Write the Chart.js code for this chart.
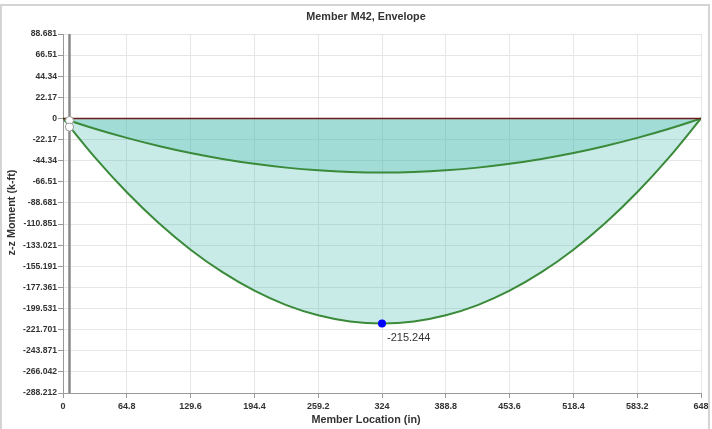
<!DOCTYPE html>
<html>
<head>
<meta charset="utf-8">
<script src="https://cdn.jsdelivr.net/npm/chart.js@4/dist/chart.umd.min.js"></script>
<style>
  html, body { margin: 0; padding: 0; background: #fff; }
  #frame { position: absolute; left: 0; top: 4px; width: 706px; height: 440px; border: 2px solid #d4d4d4; border-bottom: none; }
  #wrap { position: absolute; left: 0; top: 0; width: 712px; height: 429px; }
</style>
</head>
<body>
<div id="frame"></div>
<div id="wrap"><canvas id="c" width="712" height="429"></canvas></div>
<script>
// ---- data ----
const locations = [0, 32.4, 64.8, 97.2, 129.6, 162, 194.4, 226.8, 259.2, 291.6, 324,
                   356.4, 388.8, 421.2, 453.6, 486, 518.4, 550.8, 583.2, 615.6, 648];
const upperMoment = [0, -10.8, -20.4, -28.9, -36.3, -42.5, -47.6, -51.6, -54.4, -56.1, -56.7,
                     -56.1, -54.4, -51.6, -47.6, -42.5, -36.3, -28.9, -20.4, -10.8, 0];
const lowerMoment = [0, -40.9, -77.5, -109.8, -137.8, -161.4, -180.8, -195.9, -206.6, -213.1, -215.244,
                     -213.1, -206.6, -195.9, -180.8, -161.4, -137.8, -109.8, -77.5, -40.9, 0];
const zeroLine = [0, 0];
const zeroLineX = [0, 648];
const minPoint = [324, -215.244];
const minLabel = '-215.244';
const cursorX = 6.6;
const cursorHover = [-2.1, -9.1];
const xTicks = [0, 64.8, 129.6, 194.4, 259.2, 324, 388.8, 453.6, 518.4, 583.2, 648];
const xTickLabels = ['0', '64.8', '129.6', '194.4', '259.2', '324', '388.8', '453.6', '518.4', '583.2', '648'];
const yTicks = [88.681, 66.51, 44.34, 22.17, 0, -22.17, -44.34, -66.51, -88.681, -110.851, -133.021,
                -155.191, -177.361, -199.531, -221.701, -243.871, -266.042, -288.212];
const yTickLabels = ['88.681', '66.51', '44.34', '22.17', '0', '-22.17', '-44.34', '-66.51', '-88.681', '-110.851', '-133.021',
                     '-155.191', '-177.361', '-199.531', '-221.701', '-243.871', '-266.042', '-288.212'];
const chartTitle = 'Member M42, Envelope';
const xTitle = 'Member Location (in)';
const yTitle = 'z-z Moment (k-ft)';

const FONT = '"Liberation Sans", Arial, sans-serif';
const fillColor = 'rgba(54,182,171,0.27)';
const lineColor = 'rgb(58,138,58)';

const pts = (xs, ys) => xs.map((x, i) => ({ x: x, y: ys[i] }));

const titlesPlugin = {
  id: 'titles',
  afterDraw(chart) {
    const ctx = chart.ctx;
    const ca = chart.chartArea;
    ctx.save();
    ctx.fillStyle = '#333';
    ctx.font = 'bold 10.8px ' + FONT;
    ctx.textAlign = 'center';
    ctx.textBaseline = 'middle';
    ctx.fillText(chartTitle, 366, 17);
    ctx.fillText(xTitle, 366, 420);
    ctx.save();
    ctx.translate(12, (ca.top + ca.bottom) / 2 - 1);
    ctx.rotate(-Math.PI / 2);
    ctx.fillText(yTitle, 0, 0);
    ctx.restore();
    // min label next to the min point
    const xs = chart.scales.x, ys = chart.scales.y;
    const px = xs.getPixelForValue(minPoint[0]);
    const py = ys.getPixelForValue(minPoint[1]);
    ctx.font = '11px ' + FONT;
    ctx.textAlign = 'left';
    ctx.fillStyle = '#333';
    ctx.fillText(minLabel, px + 5, py + 14);
    ctx.restore();
  }
};

new Chart(document.getElementById('c'), {
  type: 'line',
  data: {
    datasets: [
      { // min point marker
        data: [{ x: minPoint[0], y: minPoint[1] }],
        showLine: false, pointRadius: 4, pointBackgroundColor: '#0000ff', pointBorderColor: '#0000ff',
        pointBorderWidth: 0, order: 0
      },
      { // hover markers on cursor
        data: cursorHover.map(v => ({ x: cursorX, y: v })),
        showLine: false, pointRadius: 4, pointBackgroundColor: '#fff', pointBorderColor: '#999',
        pointBorderWidth: 1, order: 1
      },
      { // cursor line
        data: [{ x: cursorX, y: yTicks[0] }, { x: cursorX, y: yTicks[yTicks.length - 1] }],
        borderColor: '#8a8a8a', borderWidth: 2.5, pointRadius: 0, fill: false, order: 2
      },
      { // zero (max envelope)
        data: pts(zeroLineX, zeroLine),
        borderColor: '#6b1c1c', borderWidth: 1.5, pointRadius: 0, fill: false, order: 3
      },
      {
        data: pts(locations, upperMoment),
        borderColor: lineColor, borderWidth: 2, pointRadius: 0,
        backgroundColor: fillColor, fill: 'origin', cubicInterpolationMode: 'monotone', order: 4
      },
      {
        data: pts(locations, lowerMoment),
        borderColor: lineColor, borderWidth: 2, pointRadius: 0,
        backgroundColor: fillColor, fill: 'origin', cubicInterpolationMode: 'monotone', order: 5
      }
    ]
  },
  options: {
    responsive: false,
    animation: false,
    events: [],
    layout: { padding: { top: 34, right: 11, left: 0, bottom: 0 } },
    plugins: { legend: { display: false }, title: { display: false }, tooltip: { enabled: false } },
    scales: {
      x: {
        type: 'linear', min: 0, max: 648,
        afterBuildTicks: s => { s.ticks = xTicks.map(v => ({ value: v })); },
        afterFit: s => { s.height = 36; },
        ticks: {
          autoSkip: false, maxRotation: 0, padding: 3,
          color: '#333', font: { family: FONT, size: 9, weight: 'bold' },
          callback: (v, i) => xTickLabels[i]
        },
        grid: { color: '#e6e6e6', tickColor: '#999', tickLength: 5, lineWidth: 1 },
        border: { color: '#999', width: 1 }
      },
      y: {
        type: 'linear', min: yTicks[yTicks.length - 1], max: yTicks[0],
        afterBuildTicks: s => { s.ticks = yTicks.map(v => ({ value: v })); },
        afterFit: s => { s.width = 63; },
        ticks: {
          autoSkip: false, padding: 1,
          color: '#333', font: { family: FONT, size: 8.6, weight: 'bold' },
          callback: (v, i) => yTickLabels[i]
        },
        grid: { color: '#e6e6e6', tickColor: '#999', tickLength: 5, lineWidth: 1 },
        border: { color: '#999', width: 1 }
      }
    }
  },
  plugins: [titlesPlugin]
});
</script>
</body>
</html>
